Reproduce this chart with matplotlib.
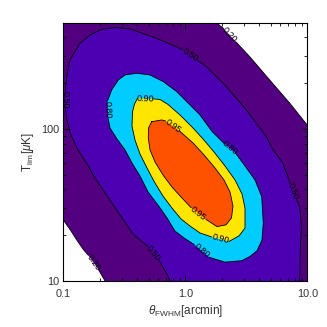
import numpy as np
import matplotlib
matplotlib.use('Agg')
import matplotlib.pyplot as plt
from matplotlib.ticker import LogLocator, NullFormatter, FixedLocator, FixedFormatter

plt.rcParams['font.family'] = ['Liberation Sans', 'DejaVu Sans']
plt.rcParams['mathtext.fontset'] = 'custom'
plt.rcParams['mathtext.rm'] = 'Liberation Sans'
plt.rcParams['mathtext.it'] = 'Liberation Sans:italic'

# axis ranges
xlim = (0.1, 10.0)
ylim = (10.0, 500.0)

# contour lines (theta_FWHM [arcmin], T_lim [uK])
c20_upper_x = [1.80, 2.06, 2.60, 3.37, 4.92, 7.17, 10.0]
c20_upper_y = [500, 458, 374, 299, 210, 148, 106]
c20_lower_x = [0.100, 0.114, 0.129, 0.146, 0.160, 0.194, 0.220]
c20_lower_y = [25.2, 21.7, 18.6, 16.1, 14.8, 11.9, 10.0]

c50_x = [0.749, 0.704, 0.608, 0.492, 0.373, 0.303, 0.241, 0.182, 0.1535, 0.1319,
         0.1156, 0.1072, 0.1042, 0.1042, 0.1066, 0.1135, 0.1371, 0.1656, 0.2064,
         0.2653, 0.3522, 0.5435, 0.749, 0.950, 1.257, 1.486, 2.168, 3.162, 4.612,
         5.235, 6.322, 7.215, 8.156, 8.664, 8.929, 8.762, 8.664]
c50_y = [10.0, 11.2, 13.7, 16.9, 20.4, 26.0, 34.1, 47.6, 60.7, 72.8,
         91.3, 114.6, 135.4, 177.8, 219.9, 284.4, 366.3, 415.3, 452.8,
         465.4, 454.9, 402.9, 362.4, 331.9, 283.5, 257.0, 189.8, 133.4, 89.0,
         72.8, 59.5, 44.1, 34.2, 30.8, 22.8, 16.0, 10.0]

c80_x = [0.2303, 0.2492, 0.2824, 0.3205, 0.3995, 0.5136, 0.6603, 0.8502, 1.058, 1.320,
         1.655, 2.076, 2.579, 3.086, 3.727, 4.229, 4.358, 4.253, 3.870, 3.391,
         2.900, 2.115, 1.579, 1.178, 0.976, 0.823, 0.708, 0.597, 0.495, 0.425,
         0.366, 0.3205, 0.2755, 0.2414, 0.2338]
c80_y = [152.9, 180.6, 210.1, 226.6, 232.5, 226.6, 204.8, 176.0, 147.6, 123.6,
         96.4, 80.4, 69.5, 57.1, 46.2, 35.9, 24.0, 18.6, 15.8, 14.5,
         13.6, 13.3, 14.3, 17.4, 19.2, 21.3, 26.0, 31.6, 38.5, 49.1,
         59.7, 72.8, 86.0, 101.5, 116.4]

c90_x = [0.5487, 0.6202, 0.7214, 0.9048, 1.135, 1.397, 1.719, 2.115, 2.555, 2.916,
         3.086, 3.086, 2.755, 2.281, 1.640, 1.320, 1.093, 0.922, 0.778, 0.6565,
         0.5646, 0.4854, 0.4253, 0.3870, 0.3656, 0.3691, 0.3833, 0.4056]
c90_y = [157.6, 156.4, 145.0, 123.6, 103.1, 86.0, 70.6, 57.1, 46.2, 37.4,
         30.2, 22.3, 19.8, 18.2, 19.5, 20.7, 23.0, 25.6, 30.2, 36.2,
         44.1, 55.4, 68.5, 84.6, 104.6, 129.3, 146.0, 158.8]

c95_x = [0.5305, 0.6406, 0.6882, 0.9048, 1.157, 1.423, 1.751, 2.076, 2.325, 2.460,
         2.391, 2.156, 1.819, 1.478, 1.114, 0.922, 0.778, 0.6565, 0.5646, 0.5136,
         0.4974, 0.4993]
c95_y = [111.7, 114.6, 112.9, 96.3, 80.9, 67.5, 55.4, 46.2, 38.5, 31.1,
         26.0, 23.4, 22.8, 25.4, 30.4, 35.7, 41.5, 49.8, 60.7, 72.8,
         87.3, 101.5]

level_text = ['0.20', '0.50', '0.80', '0.90', '0.95']
level_colors = ['#52007F', '#4C00B2', '#00CCFF', '#FFE600', '#FF5200']
text_color = '#333333'

fig = plt.figure(figsize=(3.27, 3.27), dpi=100)
ax = fig.add_axes([63.3 / 327, 1 - 281 / 327, 244 / 327, 258.3 / 327])
ax.set_xscale('log')
ax.set_yscale('log')
ax.set_xlim(xlim)
ax.set_ylim(ylim)

# filled bands
band_x = [xlim[0]] + c20_upper_x + [xlim[1]] + c20_lower_x[::-1]
band_y = [ylim[1]] + c20_upper_y + [ylim[0]] + c20_lower_y[::-1]
ax.fill(band_x, band_y, color=level_colors[0], lw=0)
ax.fill(c50_x, c50_y, color=level_colors[1], lw=0)
ax.fill(c80_x, c80_y, color=level_colors[2], lw=0)
ax.fill(c90_x, c90_y, color=level_colors[3], lw=0)
ax.fill(c95_x, c95_y, color=level_colors[4], lw=0)

# contour lines, broken where the labels sit
lines = [
    (c20_upper_x, c20_upper_y, False, [1], level_text[0]),
    (c20_lower_x, c20_lower_y, False, [4], level_text[0]),
    (c50_x, c50_y, False, [2, 12, 23, 31], level_text[1]),
    (c80_x, c80_y, True, [11, 22, 34], level_text[2]),
    (c90_x, c90_y, True, [13, 27], level_text[3]),
    (c95_x, c95_y, True, [2, 13], level_text[4]),
]

for xs, ys, closed, labsegs, txt in lines:
    n = len(xs)
    nseg = n if closed else n - 1
    px, py = [xs[0]], [ys[0]]
    for i in range(nseg):
        j = (i + 1) % n
        if i in labsegs:
            px.append(np.nan)
            py.append(np.nan)
            # label at the middle of the gap, rotated along it
            p0 = ax.transData.transform((xs[i], ys[i]))
            p1 = ax.transData.transform((xs[j], ys[j]))
            ang = np.degrees(np.arctan2(p1[1] - p0[1], p1[0] - p0[0]))
            if ang >= 90:
                ang -= 180
            if ang < -90:
                ang += 180
            mid = ax.transData.inverted().transform((p0 + p1) / 2)
            ax.text(mid[0], mid[1], txt, fontsize=6.5, rotation=ang,
                    rotation_mode='anchor', ha='center', va='center')
        px.append(xs[j])
        py.append(ys[j])
    ax.plot(px, py, color='black', lw=0.6)

ax.xaxis.set_major_locator(FixedLocator([0.1, 1.0, 10.0]))
ax.xaxis.set_major_formatter(FixedFormatter(['0.1', '1.0', '10.0']))
ax.yaxis.set_major_locator(FixedLocator([10.0, 100.0]))
ax.yaxis.set_major_formatter(FixedFormatter(['10', '100']))
for axis in (ax.xaxis, ax.yaxis):
    axis.set_minor_locator(LogLocator(base=10, subs=np.arange(2, 10)))
    axis.set_minor_formatter(NullFormatter())
ax.tick_params(which='both', direction='in', top=True, right=True, width=0.6)
ax.tick_params(which='major', length=4.5, labelsize=7.8, labelcolor=text_color)
ax.tick_params(which='minor', length=2.5)
ax.tick_params(axis='x', pad=6)
ax.tick_params(axis='y', pad=3)
for sp in ax.spines.values():
    sp.set_linewidth(0.8)

ax.set_xlabel(r'$\theta_{\rm FWHM}$[arcmin]', fontsize=8.5, color=text_color)
ax.set_ylabel(r'T$_{\rm lim}$[$\mu$K]', fontsize=8.5, color=text_color)
ax.xaxis.set_label_coords(0.5, -0.085)
ax.yaxis.set_label_coords(-0.11, 0.5)

fig.savefig('out.png', dpi=100)
